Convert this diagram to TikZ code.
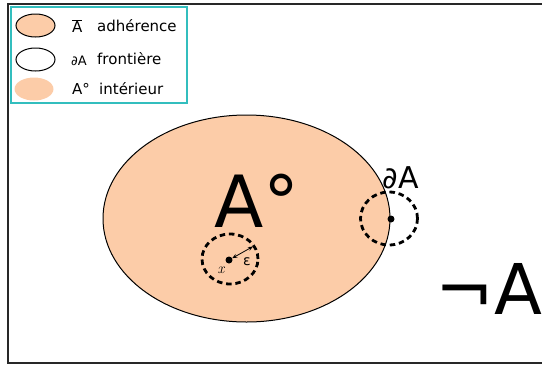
\documentclass[tikz,border=0pt]{standalone}
\usepackage{fontspec}
\setmainfont{DejaVu Sans}
\newfontfamily\lmfont{Latin Modern Roman}
\usetikzlibrary{shapes.geometric,arrows.meta}
\definecolor{peach}{RGB}{252,204,168}
\definecolor{legteal}{RGB}{50,190,190}
\definecolor{framegray}{RGB}{40,40,40}
\begin{document}
\begin{tikzpicture}[x=1pt,y=-1pt,
  legell/.style={ellipse,minimum width=39pt,minimum height=23pt,inner sep=0pt},
  legtxt/.style={anchor=west,inner sep=0pt,font=\fontsize{15}{17}\selectfont},
  dcirc/.style={ellipse,draw=black,dash pattern=on 5.5pt off 3.8pt,line width=2.8pt,inner sep=0pt},
  dot/.style={circle,fill=black,inner sep=0pt,minimum size=7pt},
  bigtxt/.style={inner sep=0pt,font=\fontsize{72}{80}\selectfont}]
\useasboundingbox (0,0) rectangle (542,365);
% frame
\draw[framegray,line width=1.6pt] (560,4) -- (8,4) -- (8,363) -- (560,363);
% legend
\node[draw=legteal,line width=1.2pt,minimum width=176pt,minimum height=96pt,inner sep=0pt] (leg) at (99,55) {};
\node[legell,fill=peach,draw=black,line width=1pt] (l1) at (35.5,25.5) {};
\node[legell,fill=white,draw=black,line width=1pt] (l2) at (35.5,59.5) {};
\node[legell,fill=peach] (l3) at (34,89) {};
\node[legtxt] (t1a) at (72,26.5) {$\overline{\hbox{A}}$};
\node[legtxt] (t1b) at (97,26) {adhérence};
\node[legtxt,font=\fontsize{13}{15}\selectfont] (t2a) at (71,61) {∂A};
\node[legtxt] (t2b) at (97,58.5) {frontière};
\node[legtxt] (t3a) at (72,89) {A°};
\node[legtxt] (t3b) at (99,88.5) {intérieur};
% main set
\node[ellipse,fill=peach,draw=black,line width=1pt,minimum width=287pt,minimum height=207pt,inner sep=0pt] (A) at (246.5,218.5) {};
\node[bigtxt] (Aint) at (257,201) {A°};
% interior point
\node[dcirc,minimum width=56pt,minimum height=50pt] (ball) at (230,259) {};
\node[dot] (x) at (229,260) {};
\coordinate (e) at (253,246.5);
\draw[{Stealth[length=5pt,width=4pt]}-{Stealth[length=5pt,width=4pt]},line width=0.8pt] (x) -- (e);
\node[inner sep=0pt,font=\fontsize{14}{16}\selectfont] (eps) at (247,262) {ε};
\node[inner sep=0pt,font=\lmfont\itshape\fontsize{15}{17}\selectfont] (xl) at (221,270) {x};
% boundary point
\node[dcirc,minimum width=57pt,minimum height=53pt] (bball) at (389,218.5) {};
\node[dot] (b) at (391,219) {};
\node[inner sep=0pt,font=\fontsize{30}{34}\selectfont] (dA) at (401,178) {∂A};
% complement
\node[bigtxt,font=\fontsize{70}{78}\selectfont] (notA) at (489,289) {¬A};
\end{tikzpicture}
\end{document}
